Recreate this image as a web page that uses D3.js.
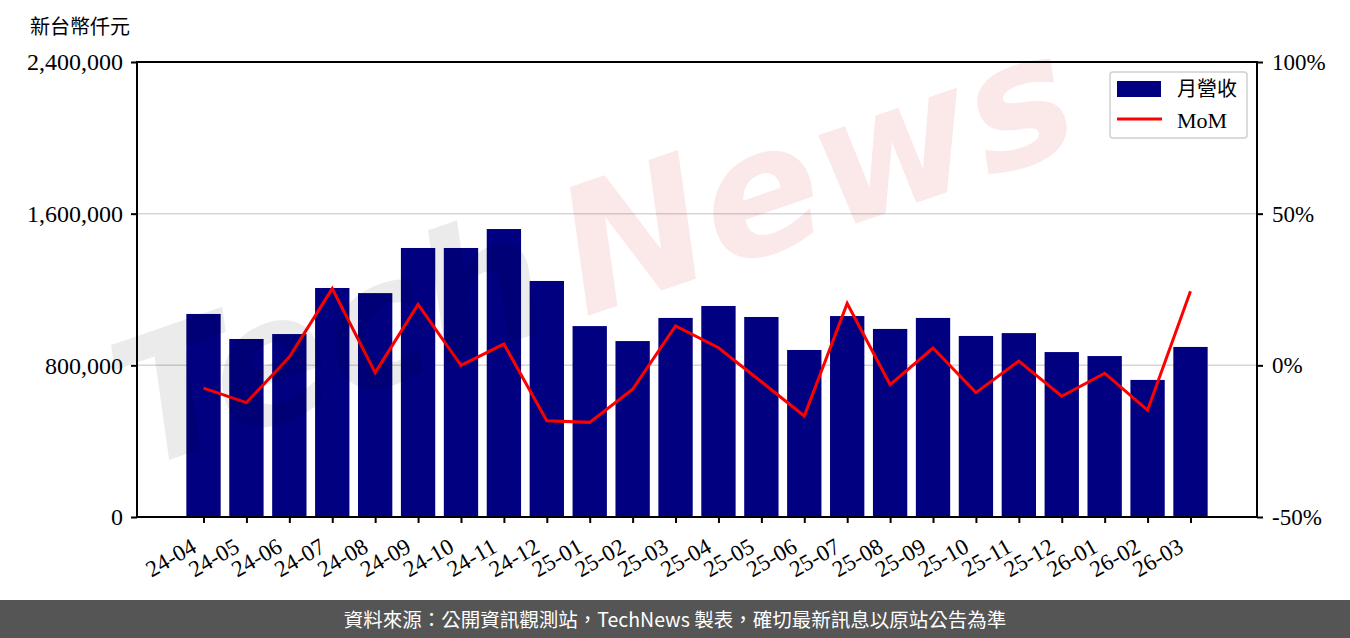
<!DOCTYPE html>
<html>
<head>
<meta charset="utf-8">
<script src="https://cdn.jsdelivr.net/npm/d3@7"></script>
<style>
  body { margin: 0; background: #fff; }
  svg { display: block; }
  .tick text { font-family: "Liberation Serif", "DejaVu Serif", serif; }
</style>
</head>
<body>
<svg id="chart" width="1350" height="638"></svg>
<script>
// months on the x axis
var months = ['24-04','24-05','24-06','24-07','24-08','24-09','24-10','24-11','24-12',
  '25-01','25-02','25-03','25-04','25-05','25-06','25-07','25-08','25-09','25-10',
  '25-11','25-12','26-01','26-02','26-03'];
// monthly revenue, thousand NTD
var revenue = [1071000, 939000, 965000, 1208000, 1181000, 1419000, 1419000, 1519000, 1245000,
  1007000, 928000, 1050000, 1113000, 1055000, 881000, 1060000, 992000, 1050000, 955000,
  970000, 870000, 849000, 723000, 897000];
// month over month change, %
var mom = [-7.5, -12.3, 2.7, 25.3, -2.4, 20.1, 0.0, 7.0, -18.3,
  -18.8, -7.9, 13.0, 5.8, -5.4, -16.7, 20.4, -6.4, 5.7, -9.0,
  1.4, -10.2, -2.6, -14.8, 24.4];
var leftTicks = [0, 800000, 1600000, 2400000];
var rightTicks = [-50, 0, 50, 100];

var svg = d3.select('#chart');
var plot = {l: 137, r: 1257, t: 62, b: 517};

var x = d3.scaleLinear().domain([-1.55, 24.55]).range([plot.l, plot.r]);
var yL = d3.scaleLinear().domain([0, 2400000]).range([plot.b, plot.t]);
var yR = d3.scaleLinear().domain([-50, 100]).range([plot.b, plot.t]);
var barW = x(0.8) - x(0);

// grid lines
svg.append('g').selectAll('line')
  .data(leftTicks.slice(1))
  .enter().append('line')
  .attr('x1', plot.l).attr('x2', plot.r)
  .attr('y1', d => yL(d)).attr('y2', d => yL(d))
  .attr('stroke', '#d6d6d6').attr('stroke-width', 1.5);

// bars
svg.append('g').selectAll('rect')
  .data(revenue)
  .enter().append('rect')
  .attr('x', (d, i) => x(i) - barW / 2)
  .attr('width', barW)
  .attr('y', d => yL(d))
  .attr('height', d => plot.b - yL(d))
  .attr('fill', '#000080');

// MoM line
var line = d3.line().x((d, i) => x(i)).y(d => yR(d));
svg.append('path')
  .datum(mom)
  .attr('d', line)
  .attr('fill', 'none')
  .attr('stroke', '#ff0000')
  .attr('stroke-width', 3)
  .attr('stroke-linejoin', 'miter');

// watermark, drawn translucent over the marks
var wm = svg.append('g')
  .attr('transform', 'translate(140,470) rotate(-19)')
  .attr('font-family', '"DejaVu Sans", sans-serif')
  .attr('font-style', 'italic')
  .attr('font-weight', 'bold')
  .attr('font-size', 175);
wm.append('text').text('Tech').attr('x', 0).attr('y', 0)
  .attr('fill', '#000').attr('fill-opacity', 0.08);
wm.append('text').text('News').attr('x', 470).attr('y', 0)
  .attr('fill', '#d01010').attr('fill-opacity', 0.09);

// axes
var xAxis = d3.axisBottom(x).tickValues(d3.range(months.length))
  .tickFormat(i => months[i]).tickSize(6).tickSizeOuter(0);
var gx = svg.append('g').attr('transform', 'translate(0,' + plot.b + ')').call(xAxis);
// rotated labels, right end tucked under the tick
gx.selectAll('text')
  .attr('font-size', 23).attr('fill', '#000')
  .attr('text-anchor', 'end')
  .attr('x', 0).attr('y', 0).attr('dy', 0)
  .attr('transform', 'translate(-6,34) rotate(-30)');

var gl = svg.append('g').attr('transform', 'translate(' + plot.l + ',0)')
  .call(d3.axisLeft(yL).tickValues(leftTicks).tickFormat(d3.format(',')).tickSize(6).tickSizeOuter(0));
gl.selectAll('text').attr('font-size', 24).attr('fill', '#000').attr('x', -14);

var gr = svg.append('g').attr('transform', 'translate(' + plot.r + ',0)')
  .call(d3.axisRight(yR).tickValues(rightTicks).tickFormat(d => d + '%').tickSize(6).tickSizeOuter(0));
gr.selectAll('text').attr('font-size', 23).attr('fill', '#000').attr('x', 15);

[gx, gl, gr].forEach(function(g) {
  g.select('.domain').remove();
  g.selectAll('line').attr('stroke', '#000').attr('stroke-width', 2);
});

// frame
svg.append('rect')
  .attr('x', plot.l).attr('y', plot.t)
  .attr('width', plot.r - plot.l).attr('height', plot.b - plot.t)
  .attr('fill', 'none').attr('stroke', '#000').attr('stroke-width', 2);

// unit title
svg.append('text').text('新台幣仟元')
  .attr('x', 30).attr('y', 34)
  .attr('font-family', '"Noto Sans CJK TC", sans-serif')
  .attr('font-size', 20).attr('fill', '#000');

// legend
var lg = svg.append('g').attr('transform', 'translate(1110,72)');
lg.append('rect').attr('width', 137).attr('height', 66).attr('rx', 3)
  .attr('fill', '#fff').attr('fill-opacity', 0.85)
  .attr('stroke', '#d0d0d0').attr('stroke-width', 1.5);
lg.append('rect').attr('x', 7).attr('y', 9).attr('width', 44).attr('height', 16).attr('fill', '#000080');
lg.append('line').attr('x1', 7).attr('x2', 52).attr('y1', 47).attr('y2', 47)
  .attr('stroke', '#ff0000').attr('stroke-width', 3);
lg.append('text').text('月營收').attr('x', 67).attr('y', 24)
  .attr('font-family', '"Noto Sans CJK TC", sans-serif').attr('font-size', 20);
lg.append('text').text('MoM').attr('x', 67).attr('y', 56)
  .attr('font-family', '"Liberation Serif", serif').attr('font-size', 22);

// footer
svg.append('rect').attr('x', 0).attr('y', 600).attr('width', 1350).attr('height', 38).attr('fill', '#555555');
svg.append('text').text('資料來源：公開資訊觀測站，TechNews 製表，確切最新訊息以原站公告為準')
  .attr('x', 675).attr('y', 627).attr('text-anchor', 'middle')
  .attr('font-family', '"Noto Sans CJK TC", sans-serif')
  .attr('font-size', 19.5).attr('fill', '#fff');
</script>
</body>
</html>
